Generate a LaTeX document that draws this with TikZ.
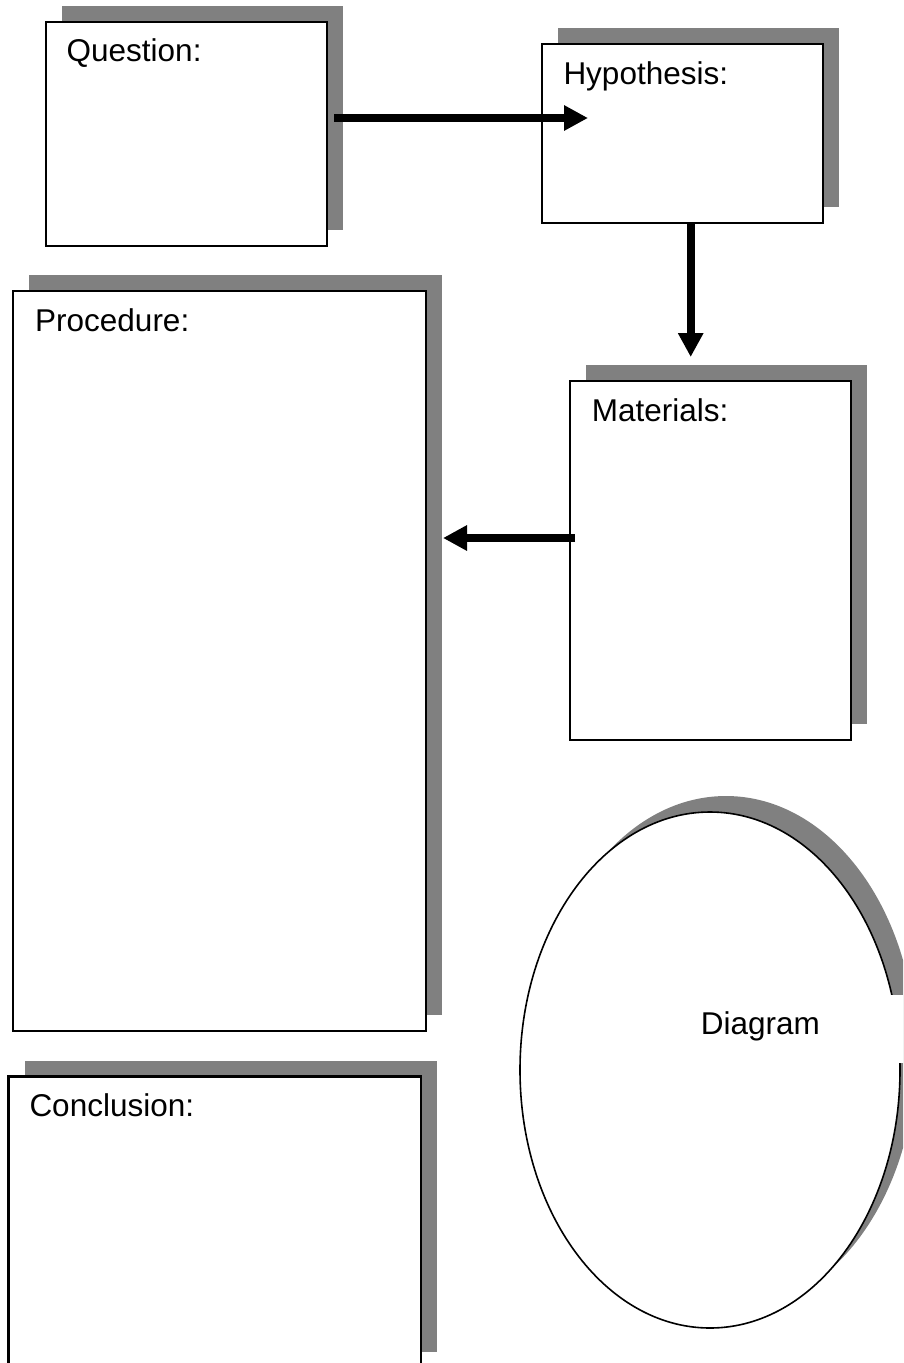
\documentclass[tikz,border=0pt]{standalone}
\usepackage{fontspec}
\setmainfont{Liberation Sans}
\usetikzlibrary{shadows,arrows.meta,shapes.geometric}
\definecolor{shadowgray}{HTML}{808080}
\tikzset{
  box/.style={draw=black, line width=2.2pt, fill=white, rectangle, inner sep=0pt,
    general shadow={fill=shadowgray, shadow xshift=16pt, shadow yshift=16pt}},
  oval/.style={draw=black, line width=1.6pt, fill=white, ellipse, inner sep=0pt,
    general shadow={fill=shadowgray, shadow xshift=16pt, shadow yshift=16pt}},
  boxlabel/.style={anchor=base west, inner sep=0pt, font=\fontsize{31.5}{37}\selectfont},
  flow/.style={line width=8pt, -{Triangle[length=24pt,width=24pt]}}
}
\begin{document}
\begin{tikzpicture}[x=1pt,y=-1pt]
\clip (0,0) rectangle (903,1363);
% boxes
\node[box, minimum width=281pt, minimum height=224pt] (q) at (186.5,134) {};
\node[box, minimum width=281pt, minimum height=179pt] (h) at (682.5,133.5) {};
\node[box, minimum width=413pt, minimum height=740pt] (p) at (219.5,661) {};
\node[box, minimum width=281pt, minimum height=359pt] (m) at (710.5,560.5) {};
\node[box, minimum width=412.5pt, minimum height=291pt] (c) at (214.75,1222) {};
\node[oval, minimum width=380pt, minimum height=516pt] (d) at (710,1070) {};
% gap in the oval outline at the right edge
\fill[white] (887,995) rectangle (904,1063);
% labels
\node[boxlabel] (qt) at (66.5,61.7) {Question:};
\node[boxlabel] (ht) at (563.3,84) {Hypothesis:};
\node[boxlabel] (pt) at (35,331.7) {Procedure:};
\node[boxlabel] (mt) at (591.7,421.7) {Materials:};
\node[boxlabel] (ct) at (29.3,1116) {Conclusion:};
\node[boxlabel] (dt) at (700.7,1034.3) {Diagram};
% connectors
\coordinate (a1s) at (334,118);
\coordinate (a1e) at (588,118);
\coordinate (a2s) at (690.7,223);
\coordinate (a2e) at (690.7,357);
\coordinate (a3s) at (575,538);
\coordinate (a3e) at (443,538);
\draw[flow] (a1s) -- (a1e);
\draw[flow] (a2s) -- (a2e);
\draw[flow] (a3s) -- (a3e);
\end{tikzpicture}
\end{document}
